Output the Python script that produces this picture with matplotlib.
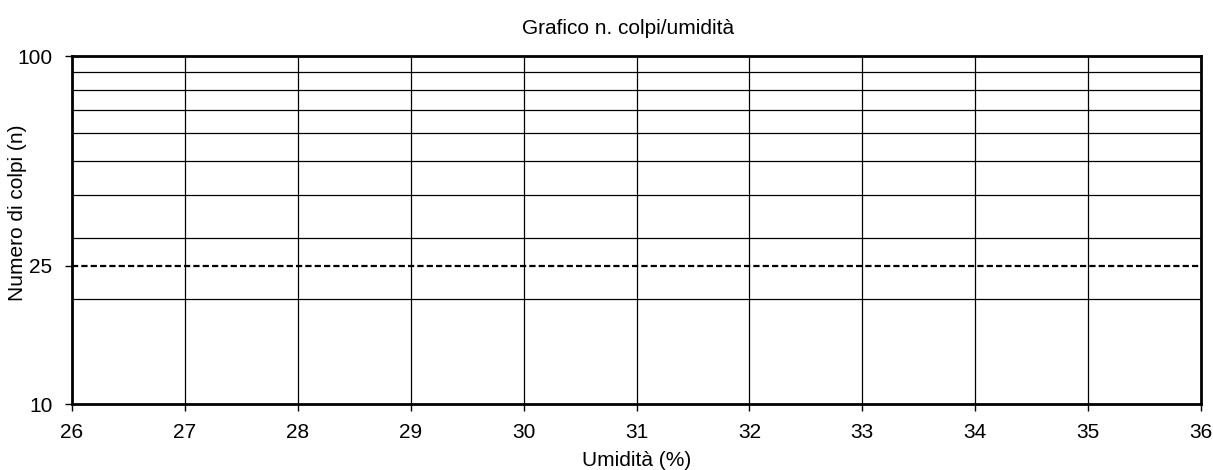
import matplotlib
matplotlib.use("Agg")
import matplotlib.pyplot as plt
from matplotlib.ticker import FixedLocator, NullFormatter, NullLocator

plt.rcParams['font.family'] = ['Liberation Sans', 'DejaVu Sans']

# Data
x_ticks = [26, 27, 28, 29, 30, 31, 32, 33, 34, 35, 36]
y_ticks = [10, 25, 100]
y_grid = [20, 30, 40, 50, 60, 70, 80, 90]
ref_colpi = 25

fig = plt.figure(figsize=(12.13, 4.70), dpi=100)
ax = fig.add_axes([0.0594, 0.1404, 0.9307, 0.7404])

ax.set_yscale('log')
ax.set_xlim(26, 36)
ax.set_ylim(10, 100)

# grid lines
for v in x_ticks[1:-1]:
    ax.axvline(v, color='black', lw=0.9, zorder=1)
for v in y_grid:
    ax.axhline(v, color='black', lw=0.9, zorder=1)

# reference line at 25 blows
ax.axhline(ref_colpi, color='black', lw=1.6, ls=(0, (2.8, 1.4)), zorder=2)

ax.xaxis.set_major_locator(FixedLocator(x_ticks))
ax.yaxis.set_major_locator(FixedLocator(y_ticks))
ax.yaxis.set_minor_locator(NullLocator())
ax.yaxis.set_minor_formatter(NullFormatter())
ax.set_yticklabels([str(v) for v in y_ticks])
ax.tick_params(axis='both', direction='out', length=5, width=1, labelsize=15,
               color='black', pad=9)

for s in ax.spines.values():
    s.set_linewidth(2)
    s.set_color('black')

ax.set_title('Grafico n. colpi/umidità', fontsize=15, pad=16, x=0.4925)
ax.set_xlabel('Umidità (%)', fontsize=15, labelpad=6)
ax.set_ylabel('Numero di colpi (n)', fontsize=15)
ax.yaxis.set_label_coords(-0.040, 0.549)

fig.savefig('out.png', dpi=100)
